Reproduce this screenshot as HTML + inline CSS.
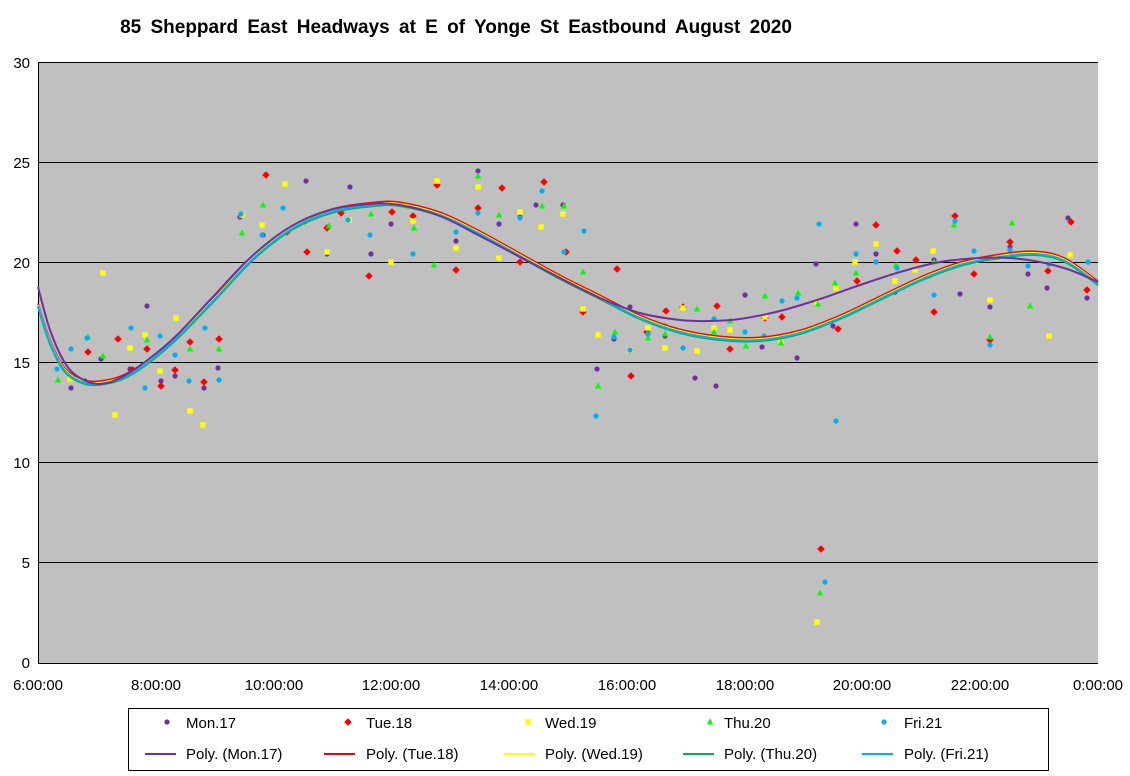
<!DOCTYPE html>
<html><head><meta charset="utf-8"><style>
body{margin:0;background:#fff;}
svg{display:block;font-family:"Liberation Sans",Arial,sans-serif;}
</style></head><body>
<svg id="s" width="1130" height="776" xmlns="http://www.w3.org/2000/svg">
<text x="456" y="33" text-anchor="middle" font-size="19" font-weight="bold" word-spacing="4">85 Sheppard East Headways at E of Yonge St Eastbound August 2020</text>
<rect x="38" y="62" width="1060" height="601" fill="#c0c0c0"/>
<g stroke="#000" stroke-width="1">
<line x1="38" y1="162.5" x2="1098" y2="162.5"/>
<line x1="38" y1="262.5" x2="1098" y2="262.5"/>
<line x1="38" y1="362.5" x2="1098" y2="362.5"/>
<line x1="38" y1="462.5" x2="1098" y2="462.5"/>
<line x1="38" y1="562.5" x2="1098" y2="562.5"/>
<line x1="38" y1="62.5" x2="1098" y2="62.5"/>
<line x1="38.5" y1="62" x2="38.5" y2="663"/>
<line x1="38" y1="663.5" x2="1098" y2="663.5"/>
</g>
<g font-size="15" text-anchor="end">
<text x="30" y="68">30</text><text x="30" y="168">25</text><text x="30" y="268">20</text>
<text x="30" y="368">15</text><text x="30" y="468">10</text><text x="30" y="568">5</text><text x="30" y="668">0</text>
</g>
<g font-size="15" text-anchor="middle">
<text x="38" y="690">6:00:00</text><text x="156" y="690">8:00:00</text><text x="274" y="690">10:00:00</text>
<text x="391" y="690">12:00:00</text><text x="509" y="690">14:00:00</text><text x="627" y="690">16:00:00</text>
<text x="745" y="690">18:00:00</text><text x="862" y="690">20:00:00</text><text x="980" y="690">22:00:00</text>
<text x="1098" y="690">0:00:00</text>
</g>
<g id="pts"></g>
<g id="curves" fill="none" stroke-width="2" stroke-linejoin="round"></g>
<rect x="128.5" y="708.5" width="920" height="62" fill="#fff" stroke="#000"/>
<g font-size="15" id="leg">
<text x="186" y="728">Mon.17</text><text x="366" y="728">Tue.18</text><text x="545" y="728">Wed.19</text>
<text x="724" y="728">Thu.20</text><text x="904" y="728">Fri.21</text>
<text x="186" y="759">Poly. (Mon.17)</text><text x="366" y="759">Poly. (Tue.18)</text><text x="545" y="759">Poly. (Wed.19)</text>
<text x="724" y="759">Poly. (Thu.20)</text><text x="904" y="759">Poly. (Fri.21)</text>
<line x1="145" y1="754" x2="176" y2="754" stroke="#7030a0" stroke-width="2"/>
<line x1="324" y1="754" x2="355" y2="754" stroke="#ff0000" stroke-width="2"/>
<line x1="504" y1="754" x2="535" y2="754" stroke="#ffff00" stroke-width="2"/>
<line x1="683" y1="754" x2="714" y2="754" stroke="#00b050" stroke-width="2"/>
<line x1="862" y1="754" x2="893" y2="754" stroke="#00b0f0" stroke-width="2"/>
</g>
</svg>
<script>
var NS="http://www.w3.org/2000/svg";
function el(t,a,p){var e=document.createElementNS(NS,t);for(var k in a)e.setAttribute(k,a[k]);p.appendChild(e);}
var g=document.getElementById("pts");
function mk(type,x,y,p){
 if(type==0)el("circle",{cx:x,cy:y,r:2.6,fill:"#7030a0"},p);
 if(type==1)el("polygon",{points:(x)+","+(y-3.8)+" "+(x+3.8)+","+y+" "+x+","+(y+3.8)+" "+(x-3.8)+","+y,fill:"#ff0000"},p);
 if(type==2)el("rect",{x:x-2.7,y:y-2.7,width:5.4,height:5.4,fill:"#ffff00"},p);
 if(type==3)el("polygon",{points:x+","+(y-3.5)+" "+(x+3.2)+","+(y+2.5)+" "+(x-3.2)+","+(y+2.5),fill:"#00ff00"},p);
 if(type==4)el("circle",{cx:x,cy:y,r:2.6,fill:"#00b0f0"},p);
}
var D=[
[[71,388],[85,381],[101,359],[130,369],[147,306],[161,381],[175,376],[204,388],[218,368],[240,217],[263,235],[306,181],[327,254],[350,187],[371,254],[391,224],[456,241],[478,171],[499,224],[520,217],[536,205],[563,205],[597,369],[614,339],[630,307],[665,336],[695,378],[716,386],[745,295],[762,347],[797,358],[816,264],[833,326],[856,224],[876,254],[895,292],[916,260],[934,260],[960,294],[990,307],[1010,247],[1028,274],[1047,288],[1068,218],[1087,298]],
[[71,376],[88,352],[118,339],[133,370],[147,349],[161,386],[175,370],[190,342],[204,382],[219,339],[266,175],[287,232],[307,252],[327,228],[341,213],[369,276],[392,212],[413,216],[437,185],[456,270],[478,208],[502,188],[520,262],[544,182],[566,252],[583,312],[617,269],[631,376],[647,332],[666,311],[683,307],[717,306],[730,349],[765,318],[782,317],[838,329],[857,281],[876,225],[897,251],[916,260],[934,312],[955,216],[974,274],[990,340],[1010,242],[1048,271],[1071,222],[1087,290],[821,549]],
[[70,379],[103,273],[115,415],[130,348],[145,335],[160,371],[176,318],[190,411],[203,425],[242,215],[262,225],[285,184],[305,222],[327,252],[349,220],[391,262],[413,221],[437,181],[456,248],[478,187],[499,258],[520,212],[541,227],[563,214],[583,309],[598,335],[630,350],[648,328],[665,348],[683,308],[697,351],[714,328],[730,330],[765,317],[781,343],[817,302],[836,288],[855,262],[876,244],[895,281],[915,270],[933,251],[975,261],[990,300],[1049,336],[1070,255],[817,622]],
[[58,380],[88,337],[103,356],[147,340],[190,349],[219,349],[242,233],[263,205],[306,220],[329,226],[371,214],[414,228],[434,265],[478,176],[499,215],[542,206],[564,206],[583,272],[598,386],[615,332],[648,338],[665,334],[697,309],[714,332],[730,321],[746,346],[765,296],[781,343],[798,293],[818,304],[835,283],[856,273],[896,265],[934,262],[954,225],[990,337],[1012,223],[1030,306],[820,593]],
[[57,369],[71,349],[87,338],[131,328],[145,388],[160,336],[175,355],[189,381],[205,328],[219,380],[241,214],[262,235],[283,208],[305,222],[348,220],[370,235],[413,254],[456,232],[478,213],[520,218],[542,191],[564,252],[584,231],[596,416],[614,337],[630,350],[648,334],[665,326],[683,348],[714,319],[745,332],[764,336],[782,301],[797,298],[819,224],[825,582],[836,421],[856,254],[876,262],[897,268],[934,295],[955,221],[974,251],[990,345],[1010,250],[1028,266],[1049,264],[1088,262]]];
for(var i=0;i<5;i++)D[i].forEach(function(p){mk(i,p[0],p[1],g);});
var L=document.getElementById("leg");
[167,348,528,710,884].forEach(function(x,i){mk(i,x,722,L);});
var P=[[38,287],[50,330],[65,363],[80,378],[100,384],[120,378],[145,362],[175,337],[210,300],[250,258],[290,227],[330,210],[370,204],[400,205],[440,216],[480,236],[520,257],[560,278],[600,298],[640,313],[680,320],[710,321],[740,319],[780,311],[820,299],[860,285],[900,272],[940,262],[980,258],[1010,258],[1040,262],[1070,270],[1098,282]];
var Q=[[38,305],[50,342],[65,370],[85,382],[105,382],[125,376],[150,360],[180,334],[215,298],[255,256],[295,226],[335,210],[375,204],[400,204],[440,214],[480,233],[520,255],[560,277],[600,297],[640,317],[680,331],[720,338],[760,339],[800,332],[840,317],[880,298],[920,279],[960,264],[1000,256],[1035,253],[1065,260],[1098,283]];
function path(pts,dx,dy){var s="M"+pts[0][0]+","+(pts[0][1]+dy);for(var i=0;i<pts.length-1;i++){var p0=pts[Math.max(0,i-1)],p1=pts[i],p2=pts[i+1],p3=pts[Math.min(pts.length-1,i+2)];
var c1x=p1[0]+(p2[0]-p0[0])/6,c1y=p1[1]+(p2[1]-p0[1])/6,c2x=p2[0]-(p3[0]-p1[0])/6,c2y=p2[1]-(p3[1]-p1[1])/6;
s+=" C"+(c1x+dx)+","+(c1y+dy)+" "+(c2x+dx)+","+(c2y+dy)+" "+(p2[0]+dx)+","+(p2[1]+dy);}return s;}
var C=document.getElementById("curves");
el("path",{d:path(Q,0,-1.5),stroke:"#ff0000"},C);
el("path",{d:path(Q,0,0),stroke:"#ffff00"},C);
el("path",{d:path(Q,0,2),stroke:"#00b050"},C);
el("path",{d:path(Q,0,1),stroke:"#00b0f0"},C);
el("path",{d:path(P,0,0),stroke:"#7030a0"},C);
</script>
</body></html>
